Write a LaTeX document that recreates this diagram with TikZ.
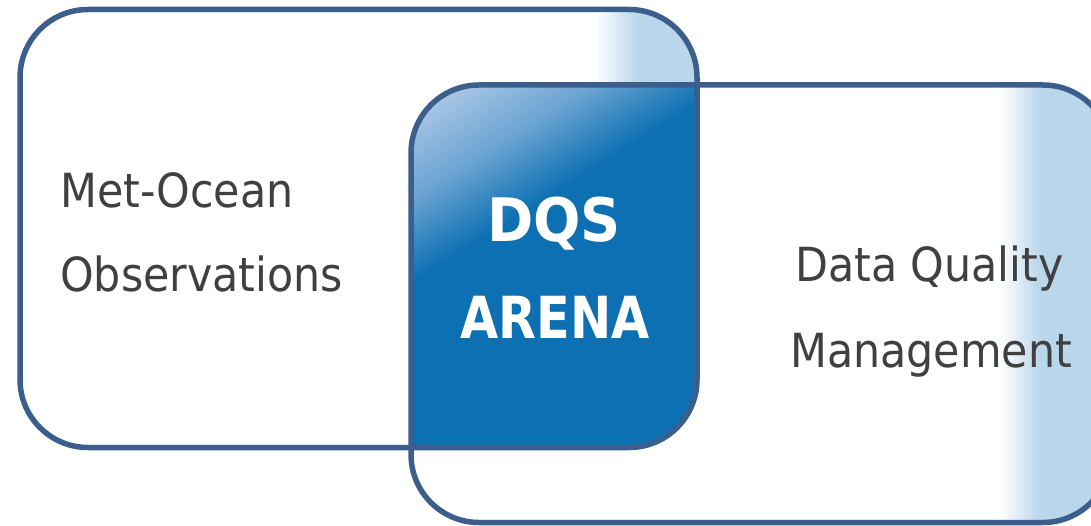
\documentclass[tikz,border=0pt]{standalone}
\usepackage{fontspec}
\newfontfamily\tfont[FakeStretch=0.91]{DejaVu Sans}
\newfontfamily\dqsfont[FakeStretch=0.93]{DejaVu Sans}
\newfontfamily\arenafont[FakeStretch=0.85]{DejaVu Sans}
\definecolor{edgeblue}{RGB}{59,94,140}
\definecolor{darkblue}{RGB}{12,112,179}
\definecolor{cornerblue}{RGB}{170,198,230}
\definecolor{paleblue}{RGB}{185,214,234}
\definecolor{txtgray}{RGB}{64,64,64}
\tikzset{
  boxedge/.style={draw=edgeblue, line width=5.5pt, rounded corners=68pt},
  sidetext/.style={font=\tfont\fontsize{47}{50}\selectfont, text=txtgray, inner sep=0pt},
  centertext/.style={text=white, inner sep=0pt}
}
\begin{document}
\begin{tikzpicture}[x=1pt,y=1pt]
\useasboundingbox (0,0) rectangle (1091,525);
\def\leftbox{(20,77.5) rectangle (697,515.5)}
\def\rightbox{(411,2.5) rectangle (1111,440)}
% left box fill
\begin{scope}
  \clip[rounded corners=68pt] \leftbox;
  \fill[white] (0,0) rectangle (1091,525);
  \shade[left color=white, right color=paleblue] (595,70) rectangle (638,520);
  \fill[paleblue] (638,70) rectangle (700,520);
\end{scope}
% right box fill
\begin{scope}
  \clip[rounded corners=68pt] \rightbox;
  \fill[white] (0,0) rectangle (1091,525);
  \shade[left color=white, right color=paleblue] (1000,0) rectangle (1040,445);
  \fill[paleblue] (1040,0) rectangle (1120,445);
\end{scope}
% overlap
\begin{scope}
  \clip[rounded corners=68pt] \leftbox;
  \clip[rounded corners=68pt] \rightbox;
  \fill[darkblue] (400,70) rectangle (700,445);
  \begin{scope}[transform canvas={rotate around={32:(411,440)}}]
    \fill[cornerblue] (0,414) rectangle (900,560);
    \shade[top color=cornerblue, bottom color=darkblue, middle color=darkblue!40!cornerblue] (0,415) rectangle (900,272);
  \end{scope}
\end{scope}
% outlines
\draw[boxedge] \leftbox;
\draw[boxedge] \rightbox;
% texts
\node[sidetext, anchor=base west] (t1) at (60,317) {Met-Ocean};
\node[sidetext, anchor=base west] (t2) at (60,233) {Observations};
\node[sidetext, anchor=base west] (t3) at (795,243) {Data Quality};
\node[sidetext, anchor=base west] (t4) at (790,158) {Management};
\node[centertext, font=\dqsfont\bfseries\fontsize{60}{62}\selectfont, anchor=base] (t5) at (554,283) {DQS};
\node[centertext, font=\arenafont\bfseries\fontsize{58}{62}\selectfont, anchor=base] (t6) at (555,187) {ARENA};
\end{tikzpicture}
\end{document}
